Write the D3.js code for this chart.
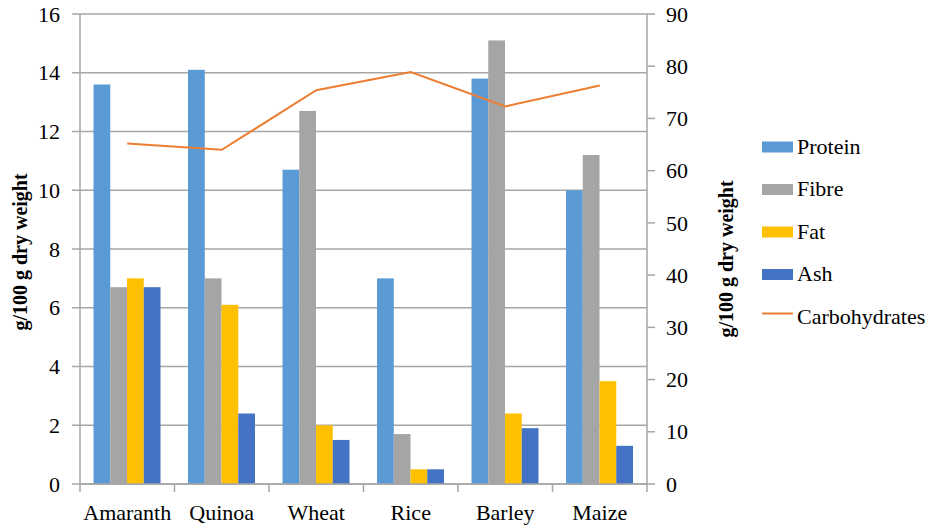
<!DOCTYPE html>
<html>
<head>
    <title>Cereal composition</title>
    <script src="https://d3js.org/d3.v7.min.js"></script>
    <style>
        body { margin: 0; background: #fff; }
        svg { display: block; }
    </style>
</head>
<body>
    <svg id="chart"></svg>
    <script>
        // data
        const grains = ["Amaranth", "Quinoa", "Wheat", "Rice", "Barley", "Maize"];
        const barSeries = ["Protein", "Fibre", "Fat", "Ash"];
        const protein = [13.6, 14.1, 10.7, 7.0, 13.8, 10.0];
        const fibre = [6.7, 7.0, 12.7, 1.7, 15.1, 11.2];
        const fat = [7.0, 6.1, 2.0, 0.5, 2.4, 3.5];
        const ash = [6.7, 2.4, 1.5, 0.5, 1.9, 1.3];
        const carbohydrates = [65.2, 64.0, 75.4, 78.9, 72.3, 76.3];
        const leftTicks = [0, 2, 4, 6, 8, 10, 12, 14, 16];
        const rightTicks = [0, 10, 20, 30, 40, 50, 60, 70, 80, 90];

        const barValues = [protein, fibre, fat, ash];
        const colors = ["#5B9BD5", "#A5A5A5", "#FFC000", "#4472C4"];
        const lineColor = "#ED7D31";
        const axisColor = "#a6a6a6";
        const serif = "Liberation Serif, Tinos, Noto Serif, DejaVu Serif, Times New Roman, serif";

        const width = 935, height = 532;
        const plot = { left: 80, right: 647, top: 14, bottom: 484 };

        const svg = d3.select("#chart")
            .attr("width", width)
            .attr("height", height)
            .style("font-family", serif);

        const x0 = d3.scaleBand().domain(grains).range([plot.left, plot.right]);
        const bw = x0.bandwidth();
        const x1 = d3.scaleBand().domain(barSeries).range([bw * 0.143, bw * 0.852]);
        const yL = d3.scaleLinear().domain([0, 16]).range([plot.bottom, plot.top]);
        const yR = d3.scaleLinear().domain([0, 90]).range([plot.bottom, plot.top]);

        // gridlines
        svg.append("g")
            .selectAll("line")
            .data(leftTicks)
            .join("line")
            .attr("x1", plot.left - 8)
            .attr("x2", plot.right)
            .attr("y1", d => yL(d))
            .attr("y2", d => yL(d))
            .attr("stroke", axisColor)
            .attr("stroke-width", 1.5);

        // bars
        const groups = svg.append("g")
            .selectAll("g")
            .data(grains)
            .join("g")
            .attr("transform", d => `translate(${x0(d)},0)`);

        groups.selectAll("rect")
            .data((g, i) => barSeries.map((s, j) => ({ s: s, v: barValues[j][i], c: colors[j] })))
            .join("rect")
            .attr("x", d => x1(d.s))
            .attr("width", x1.bandwidth())
            .attr("y", d => yL(d.v))
            .attr("height", d => yL(0) - yL(d.v))
            .attr("fill", d => d.c);

        // axes lines
        const ax = svg.append("g").attr("stroke", axisColor).attr("stroke-width", 1.5);
        ax.append("line").attr("x1", plot.left).attr("x2", plot.left)
            .attr("y1", plot.top).attr("y2", plot.bottom + 8);
        ax.append("line").attr("x1", plot.right).attr("x2", plot.right)
            .attr("y1", plot.top).attr("y2", plot.bottom + 8);
        ax.append("line").attr("x1", plot.left).attr("x2", plot.right)
            .attr("y1", plot.bottom).attr("y2", plot.bottom);
        // category separators
        ax.selectAll(".sep")
            .data(grains.slice(1))
            .join("line")
            .attr("x1", d => x0(d)).attr("x2", d => x0(d))
            .attr("y1", plot.bottom).attr("y2", plot.bottom + 8);
        // right ticks
        ax.selectAll(".rt")
            .data(rightTicks)
            .join("line")
            .attr("x1", plot.right).attr("x2", plot.right + 8)
            .attr("y1", d => yR(d)).attr("y2", d => yR(d));

        // carbohydrate line
        const line = d3.line()
            .x((d, i) => x0(grains[i]) + bw / 2)
            .y(d => yR(d));
        svg.append("path")
            .datum(carbohydrates)
            .attr("d", line)
            .attr("fill", "none")
            .attr("stroke", lineColor)
            .attr("stroke-width", 2);

        // tick labels
        svg.append("g")
            .selectAll("text")
            .data(leftTicks)
            .join("text")
            .attr("x", 60)
            .attr("y", d => yL(d))
            .attr("dy", "0.35em")
            .attr("text-anchor", "end")
            .attr("font-size", 22)
            .text(d => d);

        svg.append("g")
            .selectAll("text")
            .data(rightTicks)
            .join("text")
            .attr("x", 666)
            .attr("y", d => yR(d))
            .attr("dy", "0.35em")
            .attr("font-size", 22)
            .text(d => d);

        svg.append("g")
            .selectAll("text")
            .data(grains)
            .join("text")
            .attr("x", d => x0(d) + bw / 2)
            .attr("y", 520)
            .attr("text-anchor", "middle")
            .attr("font-size", 22)
            .text(d => d);

        // axis titles
        svg.append("text")
            .attr("transform", "translate(27,252) rotate(-90)")
            .attr("text-anchor", "middle")
            .attr("font-size", 20)
            .attr("font-weight", "bold")
            .text("g/100 g dry weight");
        svg.append("text")
            .attr("transform", "translate(733,259) rotate(-90)")
            .attr("text-anchor", "middle")
            .attr("font-size", 20)
            .attr("font-weight", "bold")
            .text("g/100 g dry weight");

        // legend
        const legendItems = barSeries.concat(["Carbohydrates"]);
        const leg = svg.append("g")
            .selectAll("g")
            .data(legendItems)
            .join("g")
            .attr("transform", (d, i) => `translate(762,${153.5 + i * 42.5})`);

        leg.filter((d, i) => i < 4)
            .append("rect")
            .attr("x", 0).attr("y", -12)
            .attr("width", 31).attr("height", 11)
            .attr("fill", (d, i) => colors[i]);
        leg.filter((d, i) => i === 4)
            .append("line")
            .attr("x1", 0).attr("x2", 31)
            .attr("y1", -10).attr("y2", -10)
            .attr("stroke", lineColor)
            .attr("stroke-width", 2);
        leg.append("text")
            .attr("x", 35)
            .attr("y", 0)
            .attr("font-size", 22)
            .text(d => d);
    </script>
</body>
</html>
